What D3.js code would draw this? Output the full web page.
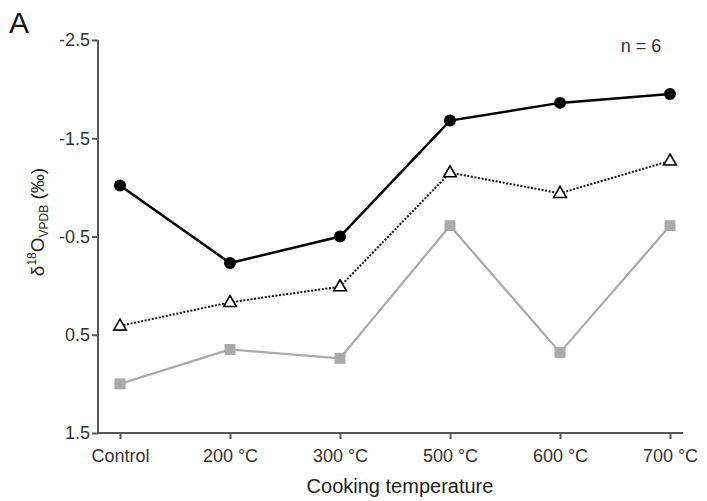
<!DOCTYPE html>
<html>
<head>
<meta charset="utf-8">
<script src="https://cdn.jsdelivr.net/npm/d3@7"></script>
<style>
  body { margin: 0; background: #fff; }
  text { font-family: "Liberation Sans", Arial, sans-serif; }
</style>
</head>
<body>
<div id="chart"></div>
<script>
// data
var categories = ["Control", "200 °C", "300 °C", "500 °C", "600 °C", "700 °C"];
var seriesCircle = [-1.02, -0.23, -0.50, -1.68, -1.86, -1.95];
var seriesTriangle = [0.41, 0.17, 0.01, -1.15, -0.94, -1.27];
var seriesSquare = [1.00, 0.65, 0.74, -0.61, 0.68, -0.61];
var yTicks = [-2.5, -1.5, -0.5, 0.5, 1.5];

var w = 707, h = 501;
var axisColor = "#555";
var textColor = "#333";

var svg = d3.select("#chart").append("svg")
    .attr("width", w)
    .attr("height", h);

var x = d3.scalePoint()
    .domain(categories)
    .range([120, 670]);
var y = d3.scaleLinear()
    .domain([-2.5, 1.5])
    .range([40, 433]);

// axes
var yAxis = d3.axisLeft(y).tickValues(yTicks).tickSize(6).tickPadding(2)
    .tickFormat(function(d) { return d3.format(".1f")(d).replace("−", "-"); });
var gy = svg.append("g")
    .attr("transform", "translate(98,0)")
    .call(yAxis);
gy.select(".domain").attr("stroke", axisColor).attr("stroke-width", 2)
    .attr("d", "M0," + y(-2.5) + "V" + y(1.5));
gy.selectAll(".tick line").attr("stroke", axisColor).attr("stroke-width", 2);
gy.selectAll(".tick text").attr("fill", textColor)
    .style("font-size", "18px").style("font-family", "Liberation Sans, Arial, sans-serif");

var xAxis = d3.axisBottom(x).tickSize(6).tickPadding(10);
var gx = svg.append("g")
    .attr("transform", "translate(0,433)")
    .call(xAxis);
gx.select(".domain").attr("stroke", axisColor).attr("stroke-width", 2)
    .attr("d", "M98,0H683");
gx.selectAll(".tick line").attr("stroke", axisColor).attr("stroke-width", 2);
gx.selectAll(".tick text").attr("fill", textColor)
    .style("font-size", "18px").style("font-family", "Liberation Sans, Arial, sans-serif");

// lines
var line = d3.line()
    .x(function(d, i) { return x(categories[i]); })
    .y(function(d) { return y(d); });

svg.append("path").datum(seriesSquare)
    .attr("d", line)
    .attr("fill", "none")
    .attr("stroke", "#aaa")
    .attr("stroke-width", 2.2);

svg.append("path").datum(seriesTriangle)
    .attr("d", line)
    .attr("fill", "none")
    .attr("stroke", "#111")
    .attr("stroke-width", 2)
    .attr("stroke-dasharray", "2,1.6");

svg.append("path").datum(seriesCircle)
    .attr("d", line)
    .attr("fill", "none")
    .attr("stroke", "#000")
    .attr("stroke-width", 2.5);

// markers
svg.selectAll(".sq").data(seriesSquare).enter().append("rect")
    .attr("class", "sq")
    .attr("x", function(d, i) { return x(categories[i]) - 5.5; })
    .attr("y", function(d) { return y(d) - 5.5; })
    .attr("width", 11).attr("height", 11)
    .attr("fill", "#aaa");

var tri = d3.symbol().type(d3.symbolTriangle).size(70);
svg.selectAll(".tri").data(seriesTriangle).enter().append("path")
    .attr("class", "tri")
    .attr("d", tri)
    .attr("transform", function(d, i) { return "translate(" + x(categories[i]) + "," + (y(d) + 0.5) + ")"; })
    .attr("fill", "#fff")
    .attr("stroke", "#000")
    .attr("stroke-width", 1.6);

svg.selectAll(".dot").data(seriesCircle).enter().append("circle")
    .attr("class", "dot")
    .attr("cx", function(d, i) { return x(categories[i]); })
    .attr("cy", function(d) { return y(d); })
    .attr("r", 6)
    .attr("fill", "#000");

// texts
svg.append("text")
    .attr("x", 9).attr("y", 33)
    .attr("font-size", "30px")
    .attr("fill", "#111")
    .text("A");

svg.append("text")
    .attr("x", 641).attr("y", 52)
    .attr("text-anchor", "middle")
    .attr("font-size", "18px")
    .attr("fill", textColor)
    .text("n = 6");

svg.append("text")
    .attr("x", 400).attr("y", 493)
    .attr("text-anchor", "middle")
    .attr("font-size", "20px")
    .attr("fill", "#222")
    .text("Cooking temperature");

var yl = svg.append("text")
    .attr("transform", "translate(44,222) rotate(-90)")
    .attr("text-anchor", "middle")
    .attr("font-size", "19px")
    .attr("fill", "#222");
yl.append("tspan").text("δ");
yl.append("tspan").attr("font-size", "12px").attr("dy", -8).text("18");
yl.append("tspan").attr("dy", 8).text("O");
yl.append("tspan").attr("font-size", "12px").attr("dy", 4).text("VPDB");
yl.append("tspan").attr("dy", -4).text(" (‰)");
</script>
</body>
</html>
